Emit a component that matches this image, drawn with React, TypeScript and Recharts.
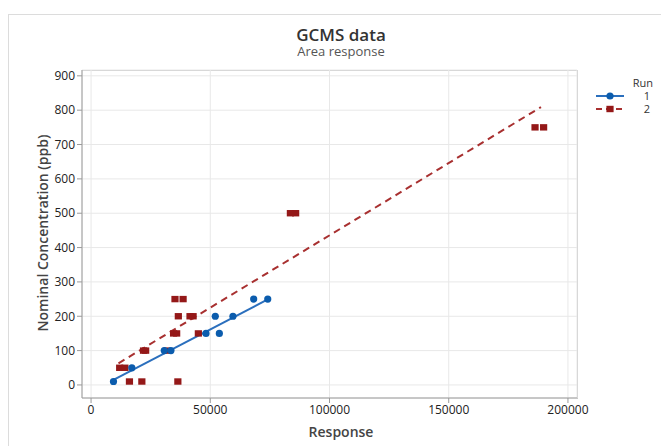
import { ScatterChart, Scatter, XAxis, YAxis, CartesianGrid } from 'recharts';

// Run 1 (blue circles)
const run1Response = [9400, 17100, 30700, 33500, 48200, 53800, 52100, 59500, 68200, 74100];
const run1Conc = [10, 50, 100, 100, 150, 150, 200, 200, 250, 250];

// Run 2 (red squares)
const run2Response = [16100, 21300, 36400, 12000, 14200, 22000, 22900, 31900, 34600, 35900, 45000, 36600, 41500, 42800, 35200, 38600, 83600, 85800, 186200, 189800];
const run2Conc = [10, 10, 10, 50, 50, 100, 100, 100, 150, 150, 150, 200, 200, 200, 250, 250, 500, 500, 750, 750];

// fitted lines, end points
const fit1Response = [9400, 74100];
const fit1Conc = [15, 249];
const fit2Response = [11500, 188700];
const fit2Conc = [63, 809];

const xTicks = [0, 50000, 100000, 150000, 200000];
const yTicks = [0, 100, 200, 300, 400, 500, 600, 700, 800, 900];

const toPoints = (xs: number[], ys: number[]) => xs.map((x, i) => ({ x, y: ys[i] }));

const run1 = toPoints(run1Response, run1Conc);
const run2 = toPoints(run2Response, run2Conc);
const fit1 = toPoints(fit1Response, fit1Conc);
const fit2 = toPoints(fit2Response, fit2Conc);

const BLUE = '#0b5cad';
const BLUE_LINE = '#2b6fbd';
const RED = '#941818';
const RED_LINE = '#a83030';
const FONT = '"Open Sans", "Noto Sans", sans-serif';

const Dot = (p: any) => <circle cx={p.cx} cy={p.cy} r={3.6} fill={BLUE} />;
const Sq = (p: any) => <rect x={p.cx - 3.6} y={p.cy - 3.2} width={7.2} height={6.4} fill={RED} />;
const Nothing = () => <g />;

export default function App() {
  return (
    <div style={{ position: 'fixed', left: 0, top: 0, width: 661, height: 446, overflow: 'hidden', background: '#fff', fontFamily: FONT }}>
      <div style={{ position: 'absolute', left: 8, top: 14, width: 700, height: 500, border: '1px solid #dcdcdc' }} />
      <div style={{ position: 'absolute', left: 0, width: 682, top: 26, height: 18, lineHeight: '18px', textAlign: 'center', fontSize: 17, fontWeight: 600, color: '#333' }}>GCMS data</div>
      <div style={{ position: 'absolute', left: 0, width: 682, top: 44, height: 15, lineHeight: '15px', textAlign: 'center', fontSize: 13, color: '#555' }}>Area response</div>
      <div style={{ position: 'absolute', left: 82, top: 70, width: 495, height: 328, border: '1px solid #c8c8c8', borderLeft: 'none', borderBottom: 'none' }} />
      <div style={{ position: 'absolute' }}>
        <ScatterChart width={661} height={446} margin={{ top: 70, right: 84, bottom: 0, left: 48 }}>
          <CartesianGrid stroke="#e8e8e8" />
          <XAxis
            type="number"
            dataKey="x"
            domain={[-3800, 203800]}
            ticks={xTicks}
            allowDataOverflow
            height={48}
            stroke="#9a9a9a"
            tick={{ fill: '#222', fontSize: 12, fontFamily: FONT }}
            tickSize={5}
          />
          <YAxis
            type="number"
            dataKey="y"
            domain={[-38, 917]}
            ticks={yTicks}
            allowDataOverflow
            width={34}
            stroke="#9a9a9a"
            tick={{ fill: '#222', fontSize: 12, fontFamily: FONT }}
            tickSize={5}
          />
          <Scatter data={fit2} shape={Nothing} line={{ stroke: RED_LINE, strokeWidth: 2, strokeDasharray: '7 5' }} isAnimationActive={false} />
          <Scatter data={fit1} shape={Nothing} line={{ stroke: BLUE_LINE, strokeWidth: 2 }} isAnimationActive={false} />
          <Scatter data={run2} shape={Sq} isAnimationActive={false} />
          <Scatter data={run1} shape={Dot} isAnimationActive={false} />
        </ScatterChart>
      </div>
      <div style={{ position: 'absolute', left: 0, width: 682, top: 423, lineHeight: '18px', textAlign: 'center', fontSize: 14, fontWeight: 600, color: '#444' }}>Response</div>
      <div style={{ position: 'absolute', left: 43, top: 233, width: 0, height: 0 }}>
        <div style={{ position: 'absolute', transform: 'translate(-50%, -50%) rotate(-90deg)', whiteSpace: 'nowrap', lineHeight: '18px', fontSize: 14, fontWeight: 600, color: '#444' }}>
          Nominal Concentration (ppb)
        </div>
      </div>
      <div style={{ position: 'absolute', left: 590, top: 76, width: 63, fontSize: 11, lineHeight: '13px', color: '#333' }}>
        <div style={{ textAlign: 'right', height: 13 }}>Run</div>
        <div style={{ display: 'flex', alignItems: 'center', height: 13 }}>
          <svg width={30} height={10} style={{ marginLeft: 5 }}>
            <line x1={1} y1={5} x2={29} y2={5} stroke={BLUE_LINE} strokeWidth={2} />
            <circle cx={15} cy={5} r={3.6} fill={BLUE} />
          </svg>
          <span style={{ marginLeft: 'auto', marginRight: 3 }}>1</span>
        </div>
        <div style={{ display: 'flex', alignItems: 'center', height: 13 }}>
          <svg width={30} height={10} style={{ marginLeft: 5 }}>
            <line x1={1} y1={5} x2={29} y2={5} stroke={RED_LINE} strokeWidth={2} strokeDasharray="6 4" />
            <rect x={11.4} y={1.8} width={7.2} height={6.4} fill={RED} />
          </svg>
          <span style={{ marginLeft: 'auto', marginRight: 3 }}>2</span>
        </div>
      </div>
    </div>
  );
}
